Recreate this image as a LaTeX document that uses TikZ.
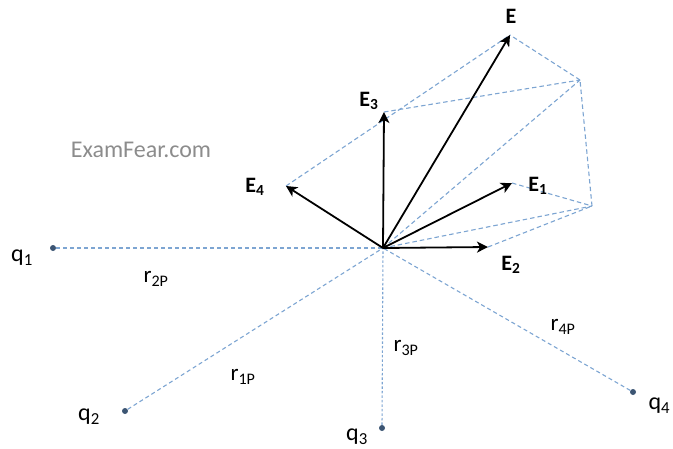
\documentclass[tikz,border=0pt]{standalone}
\usepackage{fontspec}
\setmainfont{Carlito}
\usetikzlibrary{arrows.meta}
\definecolor{guideblue}{RGB}{125,165,210}
\definecolor{chargedot}{RGB}{60,85,115}
\definecolor{markgray}{RGB}{140,140,140}
\begin{document}
\begin{tikzpicture}[x=1pt, y=-1pt,
  vec/.style={black, line width=1.8pt, -{Stealth[length=11pt, width=11pt, inset=3pt]}},
  guide/.style={guideblue, line width=1.1pt, dash pattern=on 4.5pt off 3pt},
  radial/.style={guideblue, line width=1.1pt, dash pattern=on 4pt off 3pt},
  charge/.style={circle, fill=chargedot, inner sep=0pt, minimum size=6pt},
  elabel/.style={font=\fontsize{22}{22}\selectfont\bfseries},
  qlabel/.style={font=\fontsize{24}{24}\selectfont},
  rlabel/.style={font=\fontsize{23}{23}\selectfont}]
  \useasboundingbox (0,0) rectangle (673,448);

  % 场点 P 与各分量矢量的端点
  \coordinate (P) at (383,248);
  \coordinate (E1) at (512,183);
  \coordinate (E2) at (488,247);
  \coordinate (E3) at (384,112);
  \coordinate (E4) at (286,186);
  \coordinate (S12) at (592,206);
  \coordinate (S123) at (580,80);
  \coordinate (E) at (510,35);

  % 点电荷
  \node[charge] (q1) at (53,248) {};
  \node[charge] (q2) at (125,411) {};
  \node[charge] (q3) at (382,428) {};
  \node[charge] (q4) at (633,392) {};

  % 电荷到 P 的距离（虚线）
  \draw[radial] (q1) -- (P);
  \draw[radial] (q2) -- (P);
  \draw[radial, dash pattern=on 2.5pt off 2pt] (q3) -- (P);
  \draw[radial] (q4) -- (P);

  % 平行四边形法则的辅助虚线
  \draw[guide] (E1) -- (S12);
  \draw[guide] (E2) -- (S12);
  \draw[guide] (P) -- (S12);
  \draw[guide] (S12) -- (S123);
  \draw[guide] (E3) -- (S123);
  \draw[guide] (P) -- (S123);
  \draw[guide] (S123) -- (E);
  \draw[guide] (E4) -- (E);

  % 各分量与合场强
  \draw[vec] (P) -- (E1);
  \draw[vec] (P) -- (E2);
  \draw[vec] (P) -- (E3);
  \draw[vec] (P) -- (E4);
  \draw[vec] (P) -- (E);

  % 标号
  \node[elabel] (lE) at (511,16) {E};
  \node[elabel] (lE1) at (538,186) {E\textsubscript{1}};
  \node[elabel] (lE2) at (511,265) {E\textsubscript{2}};
  \node[elabel] (lE3) at (369,101) {E\textsubscript{3}};
  \node[elabel] (lE4) at (255,187) {E\textsubscript{4}};
  \node[qlabel] (lq1) at (22,258) {q\textsubscript{1}};
  \node[qlabel] (lq2) at (89,417) {q\textsubscript{2}};
  \node[qlabel] (lq3) at (357,437) {q\textsubscript{3}};
  \node[qlabel, anchor=west] (lq4) at (645,406) {q\textsubscript{4}};
  \node[rlabel] (lr2) at (156,279) {r\textsubscript{2P}};
  \node[rlabel] (lr1) at (243,377) {r\textsubscript{1P}};
  \node[rlabel] (lr3) at (406,348) {r\textsubscript{3P}};
  \node[rlabel] (lr4) at (563,327) {r\textsubscript{4P}};
  \node[markgray, font=\fontsize{24}{24}\selectfont] (mark) at (141,150) {ExamFear.com};
\end{tikzpicture}
\end{document}
